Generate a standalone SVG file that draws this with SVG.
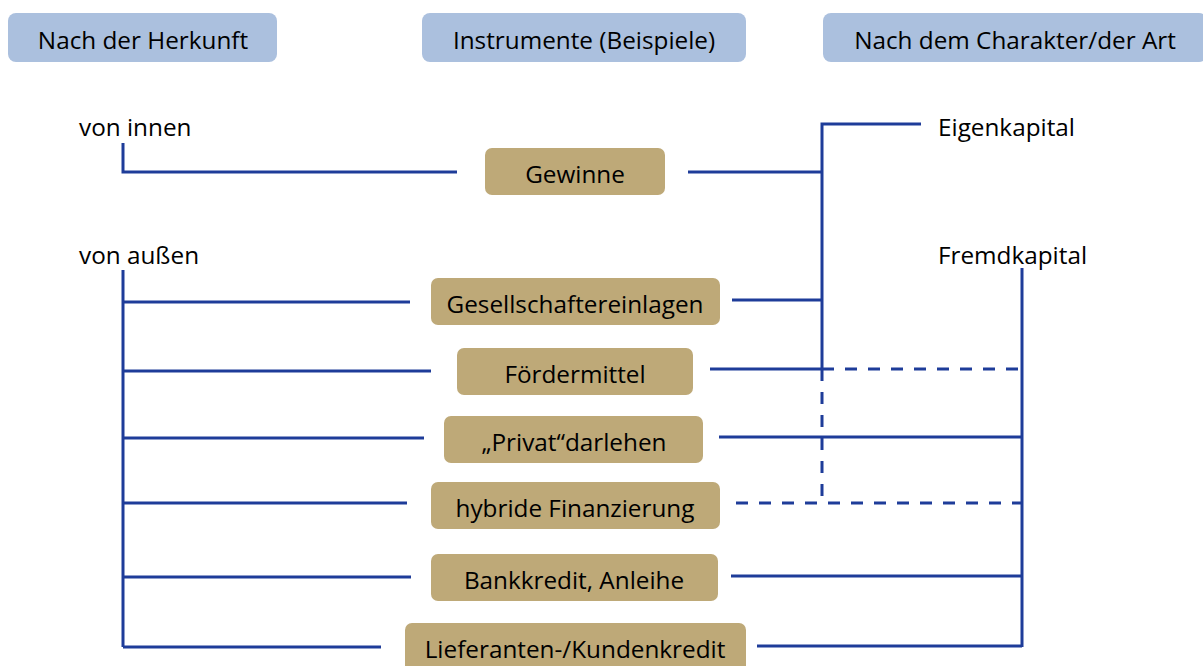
<svg xmlns="http://www.w3.org/2000/svg" width="1203" height="666" viewBox="0 0 1203 666">
<style>
.hdr{fill:#abc0de}
.ins{fill:#bea978}
text{font-family:"Open Sans","Liberation Sans",sans-serif;font-size:24.3px;fill:#000}
.c{text-anchor:middle}
.ln{stroke:#1e3c99;stroke-width:3;fill:none}
.ds{stroke:#1e3c99;stroke-width:3;fill:none;stroke-dasharray:12 11}
</style>
<rect width="1203" height="666" fill="#ffffff"/>
<g id="hdr-herkunft"><rect class="hdr" x="8" y="13" width="269" height="49" rx="8"/><text class="c" x="143" y="49">Nach der Herkunft</text></g>
<g id="hdr-instrumente"><rect class="hdr" x="422" y="13" width="324" height="49" rx="8"/><text class="c" x="584" y="49">Instrumente (Beispiele)</text></g>
<g id="hdr-charakter"><rect class="hdr" x="823" y="13" width="384" height="49" rx="8"/><text class="c" x="1015" y="49">Nach dem Charakter/der Art</text></g>
<g id="von-innen"><text x="79" y="136">von innen</text></g>
<g id="von-aussen"><text x="79" y="264">von außen</text></g>
<g id="eigenkapital"><text x="938" y="136">Eigenkapital</text></g>
<g id="fremdkapital"><text x="938" y="264">Fremdkapital</text></g>
<g id="gewinne"><rect class="ins" x="485" y="148" width="180" height="47" rx="7"/><text class="c" x="575" y="183">Gewinne</text></g>
<g id="gesellschaftereinlagen"><rect class="ins" x="431" y="278" width="289" height="47" rx="7"/><text class="c" x="575" y="313">Gesellschaftereinlagen</text></g>
<g id="foerdermittel"><rect class="ins" x="457" y="348" width="236" height="47" rx="7"/><text class="c" x="575" y="383">Fördermittel</text></g>
<g id="privatdarlehen"><rect class="ins" x="444" y="416" width="259" height="47" rx="7"/><text class="c" x="574" y="451">„Privat“darlehen</text></g>
<g id="hybride"><rect class="ins" x="431" y="482" width="289" height="47" rx="7"/><text class="c" x="575" y="517">hybride Finanzierung</text></g>
<g id="bankkredit"><rect class="ins" x="431" y="554" width="287" height="47" rx="7"/><text class="c" x="574" y="589">Bankkredit, Anleihe</text></g>
<g id="lieferanten"><rect class="ins" x="405" y="623" width="341" height="50" rx="7"/><text class="c" x="575" y="658">Lieferanten-/Kundenkredit</text></g>
<g id="connectors">
<path class="ln" d="M123 143V172H457"/>
<path class="ln" d="M123 270V647"/>
<path class="ln" d="M123 302H410M123 371H431M123 438H424M123 503H407M123 577H411M123 647H381"/>
<path class="ln" d="M688 172H822M921 124H822V369M732 300H822M710 369H822"/>
<path class="ds" d="M822 369V497M822 369H1020M736 503H1022"/>
<path class="ln" d="M1022 268V647M719 437H1022M731 576H1022M757 646H1022"/>
</g>
</svg>
